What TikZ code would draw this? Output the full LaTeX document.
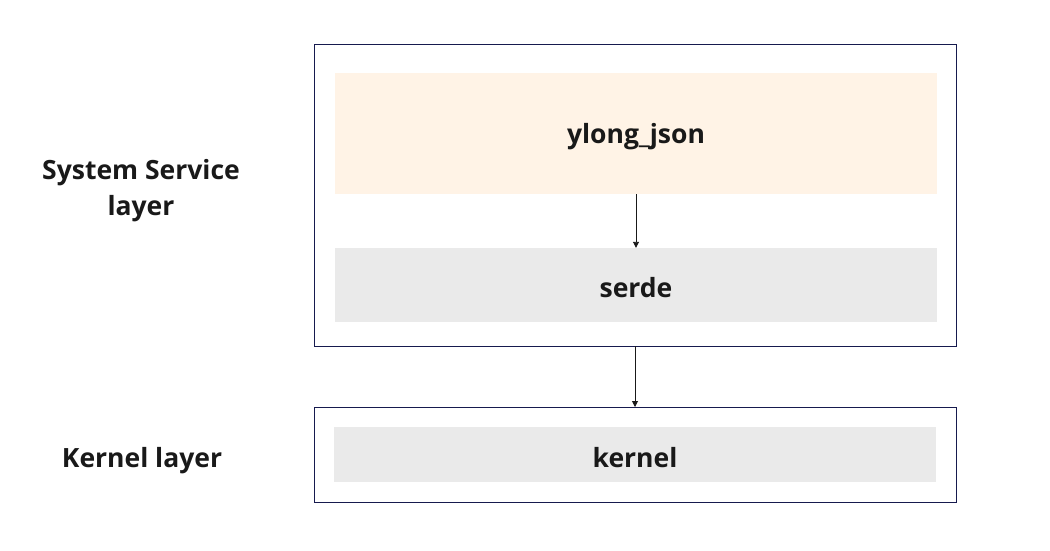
\documentclass[tikz,border=0pt]{standalone}
\usepackage{fontspec}
\setmainfont{Open Sans}
\usetikzlibrary{arrows.meta}
\definecolor{navy}{RGB}{22,26,78}
\definecolor{peach}{RGB}{255,243,230}
\definecolor{lgray}{RGB}{234,234,234}
\definecolor{txt}{RGB}{25,25,25}
\tikzset{
  outerbox/.style={draw=navy, line width=1pt, fill=white},
  innerbox/.style={draw=none, inner sep=0pt},
  lbl/.style={font=\fontsize{26.5}{36}\selectfont\bfseries, text=txt, align=center, yshift=-3pt},
  conn/.style={draw=txt, line width=0.9pt, -{Triangle[width=6pt,length=6pt]}}
}
\begin{document}
\begin{tikzpicture}[x=1pt,y=-1pt]
\useasboundingbox (0,0) rectangle (1050,550);
\draw[outerbox] (314,44) rectangle (956,346);
\coordinate (o1b) at (635,346);
\draw[outerbox] (314,407) rectangle (956,502);
\coordinate (o2t) at (635,407);
\node[innerbox, fill=peach, minimum width=602pt, minimum height=121pt] (yj) at (636,133.5) {};
\node[innerbox, fill=lgray, minimum width=602pt, minimum height=74pt] (sd) at (636,285) {};
\node[innerbox, fill=lgray, minimum width=602pt, minimum height=55pt] (kn) at (635,454.5) {};
\node[lbl] (yjt) at (yj.center) {ylong\_json};
\node[lbl] (sdt) at (sd.center) {serde};
\node[lbl] (knt) at (kn.center) {kernel};
\node[lbl] (ssl) at (141,188) {System Service\\layer};
\node[lbl] (kl) at (142,458) {Kernel layer};
\draw[conn] (yj.south) -- (sd.north);
\draw[conn] (o1b) -- (o2t);
\end{tikzpicture}
\end{document}
